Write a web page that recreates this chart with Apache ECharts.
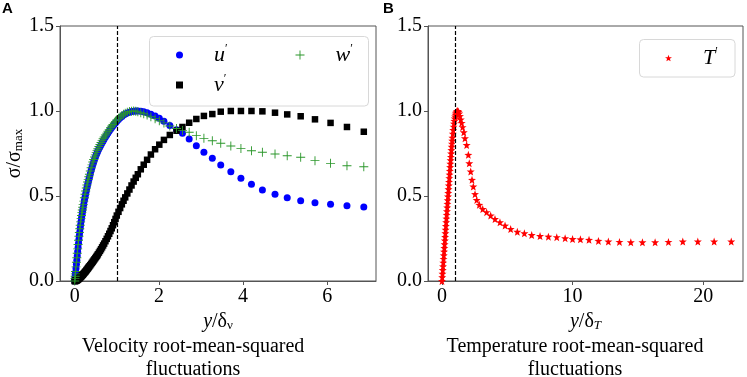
<!DOCTYPE html>
<html>
<head>
<meta charset="utf-8">
<script src="https://cdn.jsdelivr.net/npm/echarts@6.0.0/dist/echarts.min.js"></script>
<style>
  html, body { margin: 0; padding: 0; background: #fff; }
  #chart { width: 747px; height: 377px; }
</style>
</head>
<body>
<div id="chart"></div>
<script>
// panel A: wall distance y/δν (shared by the three velocity components)
const xA = [0, 0.005, 0.01, 0.015, 0.02, 0.03, 0.04, 0.05, 0.06, 0.07,
  0.08, 0.09, 0.10, 0.11, 0.12, 0.13, 0.14, 0.15, 0.16, 0.17,
  0.18, 0.19, 0.20, 0.215, 0.23, 0.245, 0.26, 0.275, 0.29, 0.305,
  0.32, 0.335, 0.35, 0.37, 0.39, 0.41, 0.43, 0.45, 0.47, 0.49,
  0.51, 0.53, 0.55, 0.575, 0.60, 0.625, 0.65, 0.675, 0.70, 0.73,
  0.76, 0.79, 0.82, 0.85, 0.88, 0.91, 0.94, 0.97, 1.00, 1.04,
  1.08, 1.12, 1.16, 1.20, 1.25, 1.30, 1.35, 1.40, 1.45, 1.50,
  1.57, 1.64, 1.72, 1.81, 1.91, 2.01, 2.12, 2.26, 2.42, 2.56,
  2.72, 2.89, 3.07, 3.27, 3.47, 3.71, 3.95, 4.20, 4.46, 4.76,
  5.05, 5.37, 5.71, 6.08, 6.47, 6.87];

const uRms = [0, 0.012, 0.025, 0.037, 0.05, 0.074, 0.098, 0.122, 0.147, 0.172,
  0.197, 0.222, 0.245, 0.267, 0.288, 0.31, 0.33, 0.35, 0.367, 0.384,
  0.40, 0.415, 0.43, 0.452, 0.473, 0.493, 0.512, 0.53, 0.548, 0.565,
  0.58, 0.595, 0.61, 0.63, 0.65, 0.668, 0.685, 0.70, 0.714, 0.728,
  0.741, 0.753, 0.764, 0.778, 0.79, 0.802, 0.813, 0.824, 0.835, 0.847,
  0.859, 0.871, 0.882, 0.893, 0.903, 0.913, 0.922, 0.931, 0.94, 0.95,
  0.96, 0.968, 0.976, 0.982, 0.988, 0.993, 0.997, 0.999, 1.0, 1.0,
  0.998, 0.995, 0.99, 0.981, 0.97, 0.958, 0.94, 0.915, 0.89, 0.869,
  0.835, 0.796, 0.757, 0.722, 0.682, 0.643, 0.604, 0.569, 0.535, 0.510,
  0.490, 0.472, 0.461, 0.451, 0.443, 0.435];

const vRms = [0, 0, 0.0003, 0.0006, 0.001, 0.002, 0.003, 0.0045, 0.006, 0.008,
  0.01, 0.012, 0.014, 0.016, 0.019, 0.021, 0.024, 0.027, 0.029, 0.032,
  0.035, 0.037, 0.04, 0.044, 0.048, 0.053, 0.057, 0.062, 0.067, 0.072,
  0.077, 0.082, 0.087, 0.093, 0.1, 0.107, 0.114, 0.121, 0.128, 0.135,
  0.142, 0.149, 0.157, 0.167, 0.177, 0.187, 0.198, 0.209, 0.22, 0.234,
  0.248, 0.263, 0.278, 0.294, 0.31, 0.328, 0.346, 0.365, 0.385, 0.407,
  0.429, 0.451, 0.472, 0.492, 0.515, 0.538, 0.562, 0.585, 0.607, 0.628,
  0.657, 0.684, 0.713, 0.744, 0.775, 0.802, 0.83, 0.859, 0.884, 0.906,
  0.931, 0.953, 0.971, 0.982, 0.996, 1.0, 1.0, 1.0, 0.998, 0.99,
  0.98, 0.969, 0.951, 0.93, 0.906, 0.878];

const wRms = [0, 0.014, 0.028, 0.042, 0.056, 0.083, 0.11, 0.137, 0.163, 0.189,
  0.215, 0.24, 0.263, 0.285, 0.307, 0.328, 0.348, 0.367, 0.385, 0.402,
  0.418, 0.434, 0.449, 0.47, 0.49, 0.51, 0.529, 0.547, 0.565, 0.582,
  0.598, 0.613, 0.628, 0.647, 0.666, 0.683, 0.70, 0.715, 0.729, 0.742,
  0.755, 0.767, 0.778, 0.791, 0.803, 0.815, 0.826, 0.837, 0.847, 0.859,
  0.87, 0.881, 0.892, 0.902, 0.912, 0.921, 0.93, 0.939, 0.947, 0.957,
  0.966, 0.974, 0.981, 0.987, 0.993, 0.997, 0.999, 1.0, 0.999, 0.995,
  0.99, 0.984, 0.976, 0.966, 0.955, 0.943, 0.93, 0.912, 0.897, 0.886,
  0.875, 0.855, 0.839, 0.825, 0.810, 0.794, 0.780, 0.766, 0.757, 0.747,
  0.737, 0.728, 0.708, 0.692, 0.678, 0.672];

// panel B: y/δT and temperature rms
const xB = [0, 0.02, 0.04, 0.06, 0.08, 0.10, 0.12, 0.14, 0.16, 0.18,
  0.20, 0.22, 0.24, 0.26, 0.28, 0.30, 0.32, 0.34, 0.36, 0.38,
  0.40, 0.42, 0.44, 0.46, 0.48, 0.50, 0.52, 0.54, 0.56, 0.58,
  0.60, 0.62, 0.64, 0.66, 0.68, 0.70, 0.72, 0.74, 0.76, 0.78,
  0.80, 0.83, 0.86, 0.89, 0.92, 0.95, 0.98, 1.01, 1.04, 1.07,
  1.10, 1.14, 1.18, 1.22, 1.27, 1.32, 1.38, 1.44, 1.51, 1.58,
  1.67, 1.76, 1.89, 2.02, 2.09, 2.20, 2.30, 2.40, 2.53, 2.66,
  2.86, 3.12, 3.42, 3.73, 4.06, 4.44, 4.83, 5.26, 5.77, 6.31,
  6.87, 7.51, 8.15, 8.79, 9.43, 10.0, 10.6, 11.26, 11.98, 12.74,
  13.59, 14.46, 15.35, 16.32, 17.34, 18.44, 19.59, 20.84, 22.15];

const tRms = [0, 0.022, 0.043, 0.065, 0.086, 0.108, 0.13, 0.151, 0.173, 0.194,
  0.216, 0.238, 0.259, 0.281, 0.302, 0.324, 0.346, 0.367, 0.389, 0.41,
  0.432, 0.454, 0.475, 0.497, 0.518, 0.54, 0.562, 0.583, 0.605, 0.626,
  0.648, 0.67, 0.69, 0.71, 0.73, 0.75, 0.77, 0.79, 0.808, 0.826,
  0.843, 0.866, 0.888, 0.908, 0.926, 0.942, 0.956, 0.968, 0.978, 0.986,
  0.992, 0.997, 1.0, 1.0, 0.995, 0.985, 0.97, 0.95, 0.93, 0.905,
  0.875, 0.84, 0.80, 0.742, 0.693, 0.644, 0.595, 0.556, 0.511, 0.477,
  0.448, 0.424, 0.405, 0.385, 0.365, 0.346, 0.326, 0.306, 0.29, 0.281,
  0.271, 0.265, 0.261, 0.258, 0.252, 0.247, 0.245, 0.242, 0.236, 0.232,
  0.230, 0.228, 0.228, 0.228, 0.230, 0.232, 0.232, 0.232, 0.232];

const yTicks = [0, 0.5, 1.0, 1.5];
const xTicksA = [0, 2, 4, 6];
const xTicksB = [0, 10, 20];
const scaleLine = 1; // dashed reference line, y/δ = 1

const SERIF = 'Liberation Serif';
const frame = '#555';
const plusPath = 'path://M4.5,0H5.5V4.5H10V5.5H5.5V10H4.5V5.5H0V4.5H4.5Z';
const starPath = 'path://M0,-10L2.35,-3.24L9.51,-3.09L3.8,1.24L5.88,8.09L0,4.6L-5.88,8.09L-3.8,1.24L-9.51,-3.09L-2.35,-3.24Z';

const zip = (xs, ys) => xs.map((x, i) => [x, ys[i]]);

const chart = echarts.init(document.getElementById('chart'), null, { renderer: 'canvas' });

const legendRich = {
  i: { fontFamily: SERIF, fontStyle: 'italic', fontSize: 22, color: '#000', padding: [0, 0, 0, 26] },
  p: { fontFamily: SERIF, fontSize: 12, color: '#000', padding: [0, 0, 12, 0] }
};
const legendFmt = name => `{i|${name}}{p|′}`;

const dashed = {
  silent: true,
  symbol: 'none',
  label: { show: false },
  lineStyle: { color: '#000', type: [4, 2], width: 1.2 },
  data: [{ xAxis: scaleLine }]
};

function xAxisCfg(idx, min, max, ticks, rich, nameText) {
  return {
    type: 'value', gridIndex: idx, min, max,
    splitLine: { show: false },
    axisLine: { onZero: false, lineStyle: { color: frame } },
    axisTick: { show: true, length: 4, customValues: ticks, lineStyle: { color: frame } },
    axisLabel: { customValues: ticks, fontFamily: SERIF, fontSize: 20, color: '#000', margin: 6 },
    name: nameText, nameLocation: 'middle', nameGap: 27,
    nameTextStyle: { rich }
  };
}

function yAxisCfg(idx) {
  return {
    type: 'value', gridIndex: idx, min: 0, max: 1.5, interval: 0.5,
    splitLine: { show: false },
    axisLine: { onZero: false, lineStyle: { color: frame } },
    axisTick: { show: true, length: 4, lineStyle: { color: frame } },
    axisLabel: { fontFamily: SERIF, fontSize: 20, color: '#000', margin: 6,
      formatter: v => v.toFixed(1) },
    name: idx === 0 ? '{n|σ/σ}{s|max}' : '',
    nameLocation: 'middle', nameRotate: 90, nameGap: 30,
    nameTextStyle: { rich: {
      n: { fontFamily: SERIF, fontSize: 20, color: '#000' },
      s: { fontFamily: SERIF, fontSize: 13, color: '#000', padding: [8, 0, 0, 0] }
    } }
  };
}

const nameRichA = {
  a: { fontFamily: SERIF, fontStyle: 'italic', fontSize: 20, color: '#000' },
  b: { fontFamily: SERIF, fontSize: 20, color: '#000' },
  s: { fontFamily: SERIF, fontSize: 13, color: '#000', padding: [8, 0, 0, 0] }
};
const nameRichB = Object.assign({}, nameRichA, {
  s: { fontFamily: SERIF, fontStyle: 'italic', fontSize: 13, color: '#000', padding: [8, 0, 0, 0] }
});

const option = {
  animation: false,
  backgroundColor: '#fff',
  title: [
    { text: 'A', left: 2, top: 1, padding: 0,
      textStyle: { fontFamily: 'Liberation Sans', fontWeight: 'bold', fontSize: 15, color: '#000' } },
    { text: 'B', left: 383, top: 1, padding: 0,
      textStyle: { fontFamily: 'Liberation Sans', fontWeight: 'bold', fontSize: 15, color: '#000' } },
    { text: 'Velocity root-mean-squared\nfluctuations', left: 193, top: 335, padding: 0, textAlign: 'center',
      textStyle: { fontFamily: SERIF, fontWeight: 'normal', fontSize: 20, lineHeight: 23, color: '#000' } },
    { text: 'Temperature root-mean-squared\nfluctuations', left: 575, top: 335, padding: 0, textAlign: 'center',
      textStyle: { fontFamily: SERIF, fontWeight: 'normal', fontSize: 20, lineHeight: 23, color: '#000' } }
  ],
  grid: [
    { left: 60, top: 26, width: 316, height: 255, show: true, borderColor: frame, borderWidth: 1 },
    { left: 428, top: 26, width: 315, height: 255, show: true, borderColor: frame, borderWidth: 1 }
  ],
  xAxis: [
    xAxisCfg(0, -0.35, 7.16, xTicksA, nameRichA, '{a|y}{b|/δ}{s|ν}'),
    xAxisCfg(1, -1.07, 23.05, xTicksB, nameRichB, '{a|y}{b|/δ}{s|T}')
  ],
  yAxis: [yAxisCfg(0), yAxisCfg(1)],
  graphic: [
    { type: 'rect', z: -1, shape: { x: 149.5, y: 36.5, width: 219, height: 69.5, r: 4 },
      style: { fill: '#fff', stroke: '#d8d8d8', lineWidth: 1 } },
    { type: 'rect', z: -1, shape: { x: 639.5, y: 39.5, width: 95.5, height: 37.5, r: 4 },
      style: { fill: '#fff', stroke: '#d8d8d8', lineWidth: 1 } }
  ],
  legend: [
    { data: ['u'], left: 176, top: 43, padding: 0, itemWidth: 7, itemHeight: 7,
      formatter: legendFmt, textStyle: { rich: legendRich } },
    { data: ['v'], left: 176, top: 73, padding: 0, itemWidth: 7, itemHeight: 7,
      formatter: legendFmt, textStyle: { rich: legendRich } },
    { data: ['w'], left: 295.5, top: 43, padding: 0, itemWidth: 9, itemHeight: 9,
      formatter: legendFmt, textStyle: { rich: legendRich } },
    { data: ['T'], left: 665, top: 46, padding: 0, itemWidth: 7, itemHeight: 7,
      formatter: legendFmt, textStyle: { rich: legendRich } }
  ],
  series: [
    { name: 'u', type: 'scatter', xAxisIndex: 0, yAxisIndex: 0, symbol: 'circle', symbolSize: 7,
      itemStyle: { color: '#0000ff', opacity: 1 }, data: zip(xA, uRms), markLine: dashed },
    { name: 'v', type: 'scatter', xAxisIndex: 0, yAxisIndex: 0, symbol: 'rect', symbolSize: 6.5,
      itemStyle: { color: '#000', opacity: 1 }, data: zip(xA, vRms) },
    { name: 'w', type: 'scatter', xAxisIndex: 0, yAxisIndex: 0, symbol: plusPath, symbolSize: 9,
      itemStyle: { color: '#2a962a', opacity: 1 }, data: zip(xA, wRms) },
    { name: 'T', type: 'scatter', xAxisIndex: 1, yAxisIndex: 1, symbol: starPath, symbolSize: 8,
      itemStyle: { color: '#ff0000', opacity: 1 }, data: zip(xB, tRms), markLine: dashed }
  ]
};

chart.setOption(option);
</script>
</body>
</html>
